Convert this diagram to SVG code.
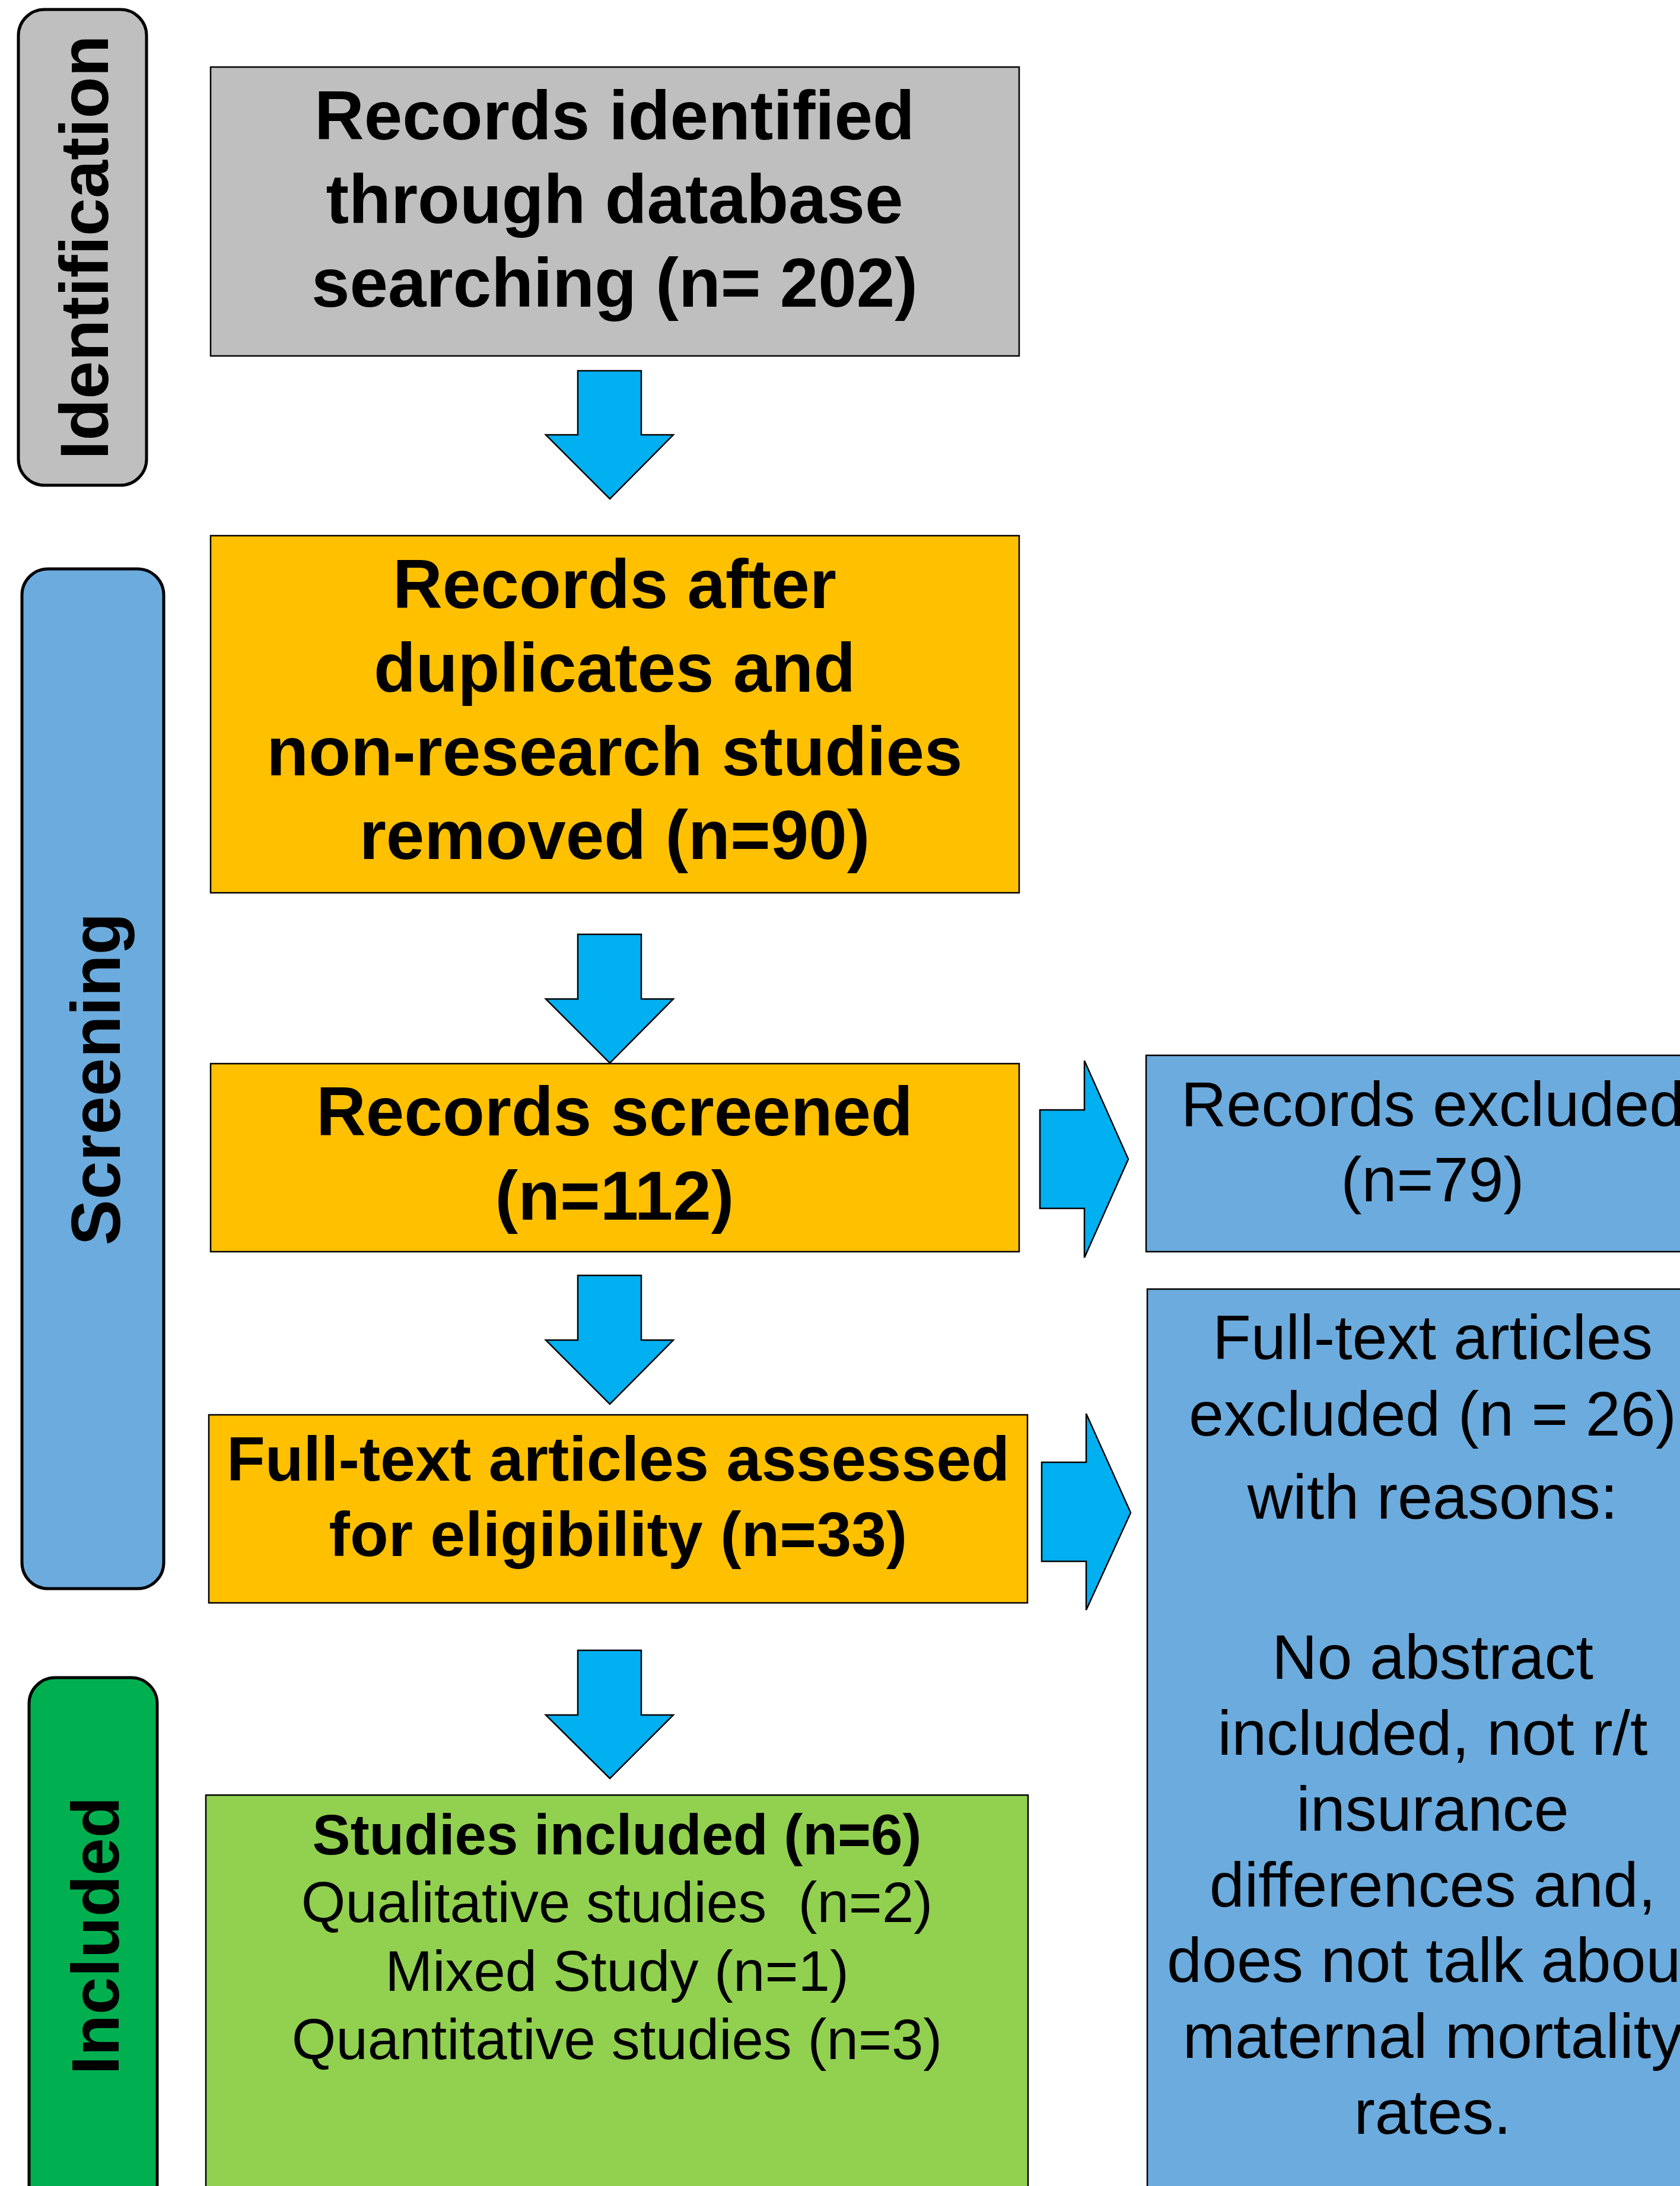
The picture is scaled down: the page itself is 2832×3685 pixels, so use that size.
<svg xmlns="http://www.w3.org/2000/svg" width="2832" height="3685" viewBox="0 0 2832 3685">
<style>
.box{stroke:#000;stroke-width:2.5}
.side{stroke:#000;stroke-width:5}
.arrow{fill:#00B0F0;stroke:#000;stroke-width:2.5;stroke-linejoin:miter}
.b{font-family:"Liberation Sans",Arial,sans-serif;font-weight:bold;fill:#000;text-anchor:middle}
.r{font-family:"Liberation Sans",Arial,sans-serif;font-weight:normal;fill:#000;text-anchor:middle}
</style>
<rect width="2832" height="3685" fill="#fff"/>
<g id="label-identification">
<rect class="side" x="31" y="16" width="216" height="802" rx="44" fill="#BFBFBF"/>
<text class="b" font-size="115" transform="translate(182,417) rotate(-90)">Identification</text>
</g>
<g id="label-screening">
<rect class="side" x="37" y="959" width="239" height="1719" rx="44" fill="#6CABDD"/>
<text class="b" font-size="116" transform="translate(202,1819) rotate(-90)">Screening</text>
</g>
<g id="label-included">
<rect class="side" x="49" y="2828" width="216" height="900" rx="44" fill="#00B050"/>
<text class="b" font-size="114" transform="translate(200,3263) rotate(-90)">Included</text>
</g>
<g id="node-identified">
<rect class="box" x="355" y="113" width="1363" height="487" fill="#BFBFBF"/>
<text class="b" font-size="116" x="1036" y="235">Records identified</text>
<text class="b" font-size="116" x="1036" y="376">through database</text>
<text class="b" font-size="116" x="1036" y="517">searching (n= 202)</text>
</g>
<g id="node-after-duplicates">
<rect class="box" x="355" y="903" width="1363" height="602" fill="#FFC000"/>
<text class="b" font-size="116" x="1036" y="1025">Records after</text>
<text class="b" font-size="116" x="1036" y="1166">duplicates and</text>
<text class="b" font-size="116" x="1036" y="1307">non-research studies</text>
<text class="b" font-size="116" x="1036" y="1448">removed (n=90)</text>
</g>
<g id="node-screened">
<rect class="box" x="355" y="1793" width="1363" height="317" fill="#FFC000"/>
<text class="b" font-size="116" x="1036" y="1914">Records screened</text>
<text class="b" font-size="116" x="1036" y="2056">(n=112)</text>
</g>
<g id="node-excluded">
<rect class="box" x="1932" y="1779" width="1000" height="331" fill="#6CABDD"/>
<text class="r" font-size="106" x="2415" y="1898">Records excluded</text>
<text class="r" font-size="106" x="2415" y="2025">(n=79)</text>
</g>
<g id="node-fulltext-assessed">
<rect class="box" x="352" y="2385" width="1380" height="317" fill="#FFC000"/>
<text class="b" font-size="106" x="1042" y="2496">Full-text articles assessed</text>
<text class="b" font-size="106" x="1042" y="2623">for eligibility (n=33)</text>
</g>
<g id="node-fulltext-excluded">
<rect class="box" x="1934" y="2173" width="1000" height="1600" fill="#6CABDD"/>
<text class="r" font-size="106" x="2415" y="2291">Full-text articles</text>
<text class="r" font-size="106" x="2415" y="2420">excluded (n = 26)</text>
<text class="r" font-size="106" x="2415" y="2560">with reasons:</text>
<text class="r" font-size="106" x="2415" y="2830">No abstract</text>
<text class="r" font-size="106" x="2415" y="2958">included, not r/t</text>
<text class="r" font-size="106" x="2415" y="3086">insurance</text>
<text class="r" font-size="106" x="2415" y="3214">differences and,</text>
<text class="r" font-size="106" x="2415" y="3341">does not talk about</text>
<text class="r" font-size="106" x="2415" y="3469">maternal mortality</text>
<text class="r" font-size="106" x="2415" y="3597">rates.</text>
</g>
<g id="node-included">
<rect class="box" x="347" y="3026" width="1386" height="700" fill="#92D050"/>
<text class="b" font-size="96" x="1040" y="3126">Studies included (n=6)</text>
<text class="r" font-size="96" x="1040" y="3240" xml:space="preserve">Qualitative studies  (n=2)</text>
<text class="r" font-size="96" x="1040" y="3356">Mixed Study (n=1)</text>
<text class="r" font-size="96" x="1040" y="3471">Quantitative studies (n=3)</text>
</g>
<g id="connectors">
<polygon class="arrow" points="974,625 1081,625 1081,733 1135,733 1028,841 920,733 974,733"/>
<polygon class="arrow" points="974,1575 1081,1575 1081,1684 1135,1684 1028,1792 920,1684 974,1684"/>
<polygon class="arrow" points="974,2150 1081,2150 1081,2259 1135,2259 1028,2367 920,2259 974,2259"/>
<polygon class="arrow" points="974,2782 1081,2782 1081,2891 1135,2891 1028,2998 920,2891 974,2891"/>
<polygon class="arrow" points="1753,1871 1828,1871 1828,1788 1902,1954 1828,2120 1828,2037 1753,2037"/>
<polygon class="arrow" points="1756,2465 1831,2465 1831,2383 1906,2550 1831,2714 1831,2632 1756,2632"/>
</g>
</svg>
